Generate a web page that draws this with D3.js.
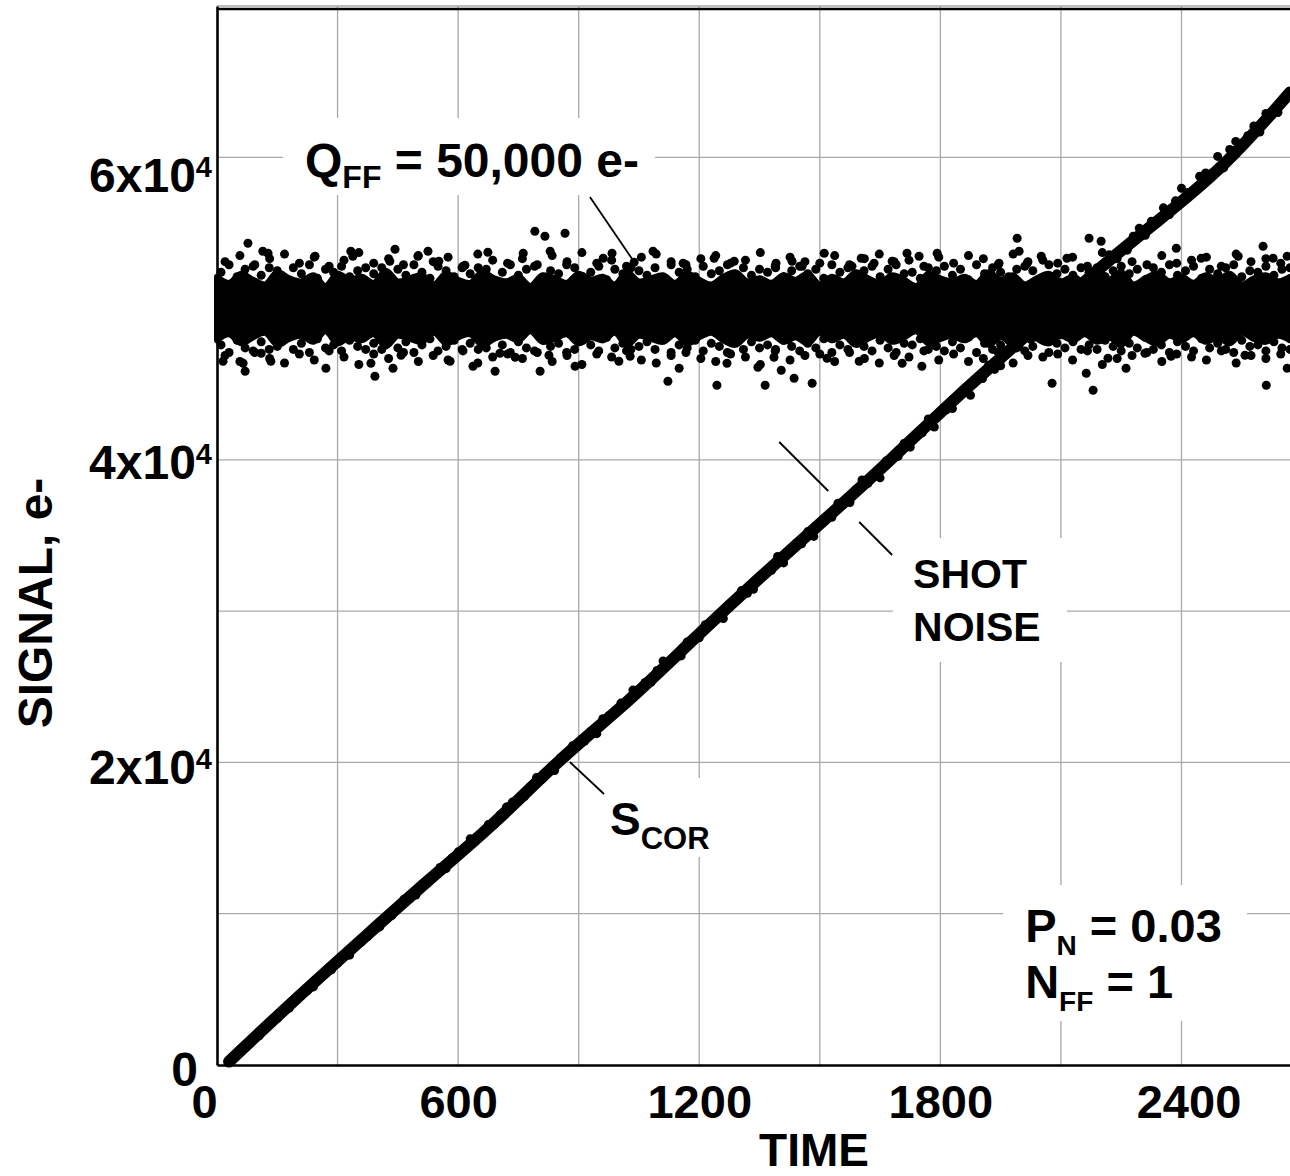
<!DOCTYPE html>
<html><head><meta charset="utf-8">
<script src="https://cdn.jsdelivr.net/npm/d3@7"></script>
<style>
html,body{margin:0;padding:0;background:#fff;}
svg{display:block;font-family:"Liberation Sans",Arial,Helvetica,sans-serif;font-weight:bold;}
</style>
</head><body>
<svg id="chart" width="1290" height="1176"></svg>
<script>
// ---------------- DATA ----------------
const xTickValues = [0, 600, 1200, 1800, 2400];
const xTickLabels = ["0", "600", "1200", "1800", "2400"];
const yTickValues = [0, 20000, 40000, 60000];
const yTickMantissa = ["0", "2x10", "4x10", "6x10"];
const yTickExponent = ["", "4", "4", "4"];
const xGridValues = [300, 600, 900, 1200, 1500, 1800, 2100, 2400];
const yGridValues = [10000, 20000, 30000, 40000, 50000, 60000, 70000];

// S_COR trace: sampled every 15 time units starting at t = 30
const sCorStart = 30, sCorStep = 15;
const sCorSignal = [230,540,950,1350,1650,1930,2440,2850,3070,3480,3760,4360,4590,4900,5160,5710,6120,6290,6720,7260,
7260,7880,8280,8490,8930,9130,9790,9880,10350,10950,11000,11240,11940,12210,12510,13060,12980,13680,14090,14230,
14950,15020,15260,15890,15900,16540,17050,17380,17540,17750,18410,19000,18910,19420,19470,20310,20410,21110,21210,21410,
22060,21900,22890,23090,23280,23920,23890,24780,24790,25280,25290,26080,26710,26510,26980,27040,27960,28140,28240,29100,
29300,29470,29510,30480,30650,31360,31180,31440,32220,32510,32700,33620,33190,33880,34450,34450,35260,34940,35800,36110,
36200,37130,37110,37180,38060,38670,38450,39030,38810,39930,40070,40230,41100,40840,41630,41790,42700,42170,43110,43300,
43390,44310,44500,44270,45340,45380,46250,45980,46220,46980,47860,47490,48090,47960,48940,49430,49200,49840,49700,50720,
51280,51200,51300,52270,52470,52160,53550,53300,53790,53860,54780,55310,54850,55770,55770,56660,56220,57120,57950,57670,
57770,58740,58960,58950,60060,59300,60520,61050,60860,61430,62070,61670,62900,62770,62960,63710,64280];

// Flat-field (Q_FF = 50,000 e-): dense core envelope, every 30 time units
const ffCoreStep = 30;
const ffCoreUpper = [52100,51700,52300,51900,51600,52400,52000,51800,52200,51500,52300,51900,52100,51700,52500,51800,52000,52200,51600,52300,
51900,51700,52400,52000,51800,52100,51500,52200,52000,51700,52300,51900,52100,51600,52400,51800,52000,52200,51700,52300,
51900,51600,52100,52400,51800,52000,51700,52200,51900,52300,51600,52100,51800,52400,52000,51700,52200,51900,51500,52300,
52000,51800,52100,51700,52400,51900,52200,51600,52000,52300,51800,52100,51700,52200,51900,52400,51600,52000,52300,51800,
52100,51700,52200,51900,52300,51600,52000,52200,51800,52100];
const ffCoreLower = [47900,48300,47700,48100,48400,47600,48000,48200,47800,48500,47700,48100,47900,48300,47500,48200,48000,47800,48400,47700,
48100,48300,47600,48000,48200,47900,48500,47800,48000,48300,47700,48100,47900,48400,47600,48200,48000,47800,48300,47700,
48100,48400,47900,47600,48200,48000,48300,47800,48100,47700,48400,47900,48200,47600,48000,48300,47800,48100,48500,47700,
48000,48200,47900,48300,47600,48100,47800,48400,48000,47700,48200,47900,48300,47800,48100,47600,48400,48000,47700,48200,
47900,48300,47800,48100,47700,48400,48000,47800,48200,47900];

// Flat-field points near the core edges, every 20 time units starting at t = 10
const ffNearStart = 10, ffNearStep = 20;
const ffNearUpper = [52400,52900,52100,52600,52800,52200,52700,52500,51900,52700,52300,52900,52000,52600,52400,52800,52100,52500,52700,52300,
52700,51900,52600,52200,52900,52400,52000,52800,52500,52100,52700,52300,52700,52600,51800,52400,52900,52200,52600,52800,
52000,52500,52300,52900,52700,52100,52400,52800,51900,52600,52300,52700,52500,52200,52700,52000,52900,52400,52600,52100,
52800,52300,52500,52900,51900,52700,52200,52600,52400,52700,52100,52500,52800,52300,52600,52000,52900,52400,52700,52200,
52500,52800,52100,52600,52900,52300,52400,52000,52700,52500,52800,52200,52600,51900,52900,52300,52700,52400,52100,52600,
52800,52500,52000,52900,52300,52600,52200,52700,52400,52700,52100,52500,52800,52300,52600,51900,52700,52400,52900,52200,
52500,52800,52000,52600,52300,52700,52900,52100,52500,52400,52800,52200,52600,52700];
const ffNearLower = [47600,47100,47900,47400,47200,47800,47300,47500,48100,47300,47700,47100,48000,47400,47600,47200,47900,47500,47300,47700,
47300,48100,47400,47800,47100,47600,48000,47200,47500,47900,47300,47700,47300,47400,48200,47600,47100,47800,47400,47200,
48000,47500,47700,47100,47300,47900,47600,47200,48100,47400,47700,47300,47500,47800,47300,48000,47100,47600,47400,47900,
47200,47700,47500,47100,48100,47300,47800,47400,47600,47300,47900,47500,47200,47700,47400,48000,47100,47600,47300,47800,
47500,47200,47900,47400,47100,47700,47600,48000,47300,47500,47200,47800,47400,48100,47100,47700,47300,47600,47900,47400,
47200,47500,48000,47100,47700,47400,47800,47300,47600,47300,47900,47500,47200,47700,47400,48100,47300,47600,47100,47800,
47500,47200,48000,47400,47700,47300,47100,47900,47500,47600,47200,47800,47400,47300];

// Flat-field points further out, every 37 time units starting at t = 20
const ffFarStart = 20, ffFarStep = 37;
const ffFarUpper = [53100,53500,52900,53300,53600,53000,53400,52800,53200,53700,53000,53300,52900,53500,53100,53400,52800,53600,53200,53000,
53300,52900,53500,53100,53700,53000,53200,52800,53400,53600,53100,52900,53300,53500,53000,53200,53700,52800,53400,53100,
53000,53500,52900,53300,53600,53100,53200,52800,53400,53000,53500,53300,52900,53600,53100,53200,53000,53400,52800,53700,
53300,53100,52900,53500,53000,53200,53400,52800,53600,53100,53300,53000];
const ffFarLower = [46900,46500,47100,46700,46400,47000,46600,47200,46800,46300,47000,46700,47100,46500,46900,46600,47200,46400,46800,47000,
46700,47100,46500,46900,46300,47000,46800,47200,46600,46400,46900,47100,46700,46500,47000,46800,46300,47200,46600,46900,
47000,46500,47100,46700,46400,46900,46800,47200,46600,47000,46500,46700,47100,46400,46900,46800,47000,46600,47200,46300,
46700,46900,47100,46500,47000,46800,46600,47200,46400,46900,46700,47000];

// Flat-field outlying points
const ffOutlierTime = [77,114,127,244,333,338,443,500,525,430,552,617,791,816,866,762,829,674,983,961,
1038,1085,1237,1287,1160,1511,1603,1580,1635,1680,1717,1747,1792,1991,1996,1946,1431,1391,1456,2170,
2200,2387,2603,2541,2628,2663,2449,2051,2016,2115,
15,70,65,110,134,271,393,438,458,580,637,383,692,804,891,1122,1150,1244,1269,1000,
1028,826,742,704,1364,1436,1481,1518,1598,1754,1705,1386,1404,1346,2078,2163,2262,2217,2309,2374,
2611,2663,2558,2180];
const ffOutlierSignal = [54318,53790,53658,53460,53790,53460,53922,53460,53790,53128,53128,52864,55111,54780,54979,53658,53790,53724,53658,53327,
53063,53790,53327,53128,52996,53658,53327,52798,52996,53128,53658,53460,53658,54648,53790,52996,53128,52996,52798,54648,
54450,53988,54120,53460,53327,53460,53327,53460,52996,53327,
46520,45860,46388,47049,46520,46058,45529,46058,46917,46520,46190,46388,45860,45860,46190,45199,46058,44934,46388,46520,
46851,46917,46785,47049,44934,45397,45067,46718,46520,46190,46388,46785,45926,46124,45067,45728,46058,46718,47049,46851,
44934,46058,46917,44604];

// ---------------- LAYOUT ----------------
const svg = d3.select("#chart");
const FONT = '"Liberation Sans",Arial,Helvetica,sans-serif';
const T_MAX = 2670;
const x = d3.scaleLinear().domain([0, T_MAX]).range([217, 1290]);
const y = d3.scaleLinear().domain([0, 70000]).range([1065, 6]);
const GRID = "#a8a8a8";
const R = 4.5;

// grid
const grid = svg.append("g");
grid.selectAll(".vg").data(xGridValues).join("line")
  .attr("x1", d => x(d)).attr("x2", d => x(d)).attr("y1", y(0)).attr("y2", y(70000))
  .attr("stroke", GRID).attr("stroke-width", 1.3);
grid.selectAll(".hg").data(yGridValues).join("line")
  .attr("x1", x(0)).attr("x2", x(T_MAX)).attr("y1", d => y(d)).attr("y2", d => y(d))
  .attr("stroke", GRID).attr("stroke-width", 1.3);

// white label backgrounds (data space)
const boxes = [
  {t0: 164, t1: 1090, v0: 57507, v1: 62597},
  {t0: 1682, t1: 2115, v0: 26638, v1: 34835},
  {t0: 953, t1: 1239, v0: 13749, v1: 18971},
  {t0: 1956, t1: 2563, v0: 2908, v1: 11898}
];
svg.append("g").selectAll("rect").data(boxes).join("rect")
  .attr("x", d => x(d.t0)).attr("y", d => y(d.v1))
  .attr("width", d => x(d.t1) - x(d.t0)).attr("height", d => y(d.v0) - y(d.v1))
  .attr("fill", "#fff");

// top frame
svg.append("line").attr("x1", x(0)).attr("x2", x(T_MAX)).attr("y1", 9).attr("y2", 9)
  .attr("stroke", "#000").attr("stroke-width", 2.5);

// flat-field core band
const coreData = ffCoreUpper.map((u, i) => ({t: Math.min(i * ffCoreStep, T_MAX), u, l: ffCoreLower[i]}));
svg.append("path").datum(coreData)
  .attr("d", d3.area().x(d => x(d.t)).y0(d => y(d.l)).y1(d => y(d.u)).curve(d3.curveCatmullRom))
  .attr("fill", "#000").attr("stroke", "#000").attr("stroke-width", 6).attr("stroke-linejoin", "round");

// flat-field individual points
const ffPts = [];
function addSeries(arr, start, step) {
  arr.forEach((v, i) => { const t = start + i * step; if (t <= T_MAX) ffPts.push({t, v}); });
}
addSeries(ffNearUpper, ffNearStart, ffNearStep);
addSeries(ffNearLower, ffNearStart, ffNearStep);
addSeries(ffFarUpper, ffFarStart, ffFarStep);
addSeries(ffFarLower, ffFarStart, ffFarStep);
ffOutlierTime.forEach((t, i) => ffPts.push({t, v: ffOutlierSignal[i]}));
svg.append("g").selectAll("circle").data(ffPts).join("circle")
  .attr("cx", d => x(d.t)).attr("cy", d => y(d.v)).attr("r", R).attr("fill", "#000");

// S_COR trace: thick smoothed band plus individual points
const sCorData = sCorSignal.map((v, i) => ({t: sCorStart + i * sCorStep, v}));
const sCorSpine = sCorData.filter((d, i) => i % 11 === 0 || i === sCorData.length - 1);
svg.append("path").datum(sCorSpine)
  .attr("d", d3.line().x(d => x(d.t)).y(d => y(d.v)).curve(d3.curveBasis))
  .attr("fill", "none").attr("stroke", "#000").attr("stroke-width", 12)
  .attr("stroke-linejoin", "round").attr("stroke-linecap", "round");
svg.append("g").selectAll("circle").data(sCorData).join("circle")
  .attr("cx", d => x(d.t)).attr("cy", d => y(d.v)).attr("r", R).attr("fill", "#000");

// axes
const xAxis = d3.axisBottom(x).tickValues(xTickValues).tickSize(0).tickFormat((d, i) => xTickLabels[i]);
const gx = svg.append("g").attr("transform", `translate(0,${y(0)})`).call(xAxis)
  .attr("font-family", FONT).attr("font-size", 47).attr("font-weight", "bold");
gx.select(".domain").attr("stroke", "#000").attr("stroke-width", 2.5);
const xNudge = {0: -13, 2400: 7};
gx.selectAll(".tick text").attr("fill", "#000").attr("dy", null).attr("y", 53)
  .attr("dx", d => xNudge[d] || 0);

const yAxis = d3.axisLeft(y).tickValues(yTickValues).tickSize(0);
const gy = svg.append("g").attr("transform", `translate(${x(0)},0)`).call(yAxis)
  .attr("font-family", FONT).attr("font-size", 48).attr("font-weight", "bold");
gy.select(".domain").attr("stroke", "#000").attr("stroke-width", 2.6);
const yBase = {0: 20, 20000: 21, 40000: 19, 60000: 34};
gy.selectAll(".tick text").each(function (d, i) {
  const t = d3.select(this);
  t.text(null).attr("fill", "#000").attr("dy", null).attr("y", yBase[d]).attr("x", d === 0 ? -19 : -5);
  t.append("tspan").text(yTickMantissa[i]);
  if (yTickExponent[i]) t.append("tspan").attr("font-size", 29).attr("dy", -15).text(yTickExponent[i]);
});

// axis titles
svg.append("text").attr("x", 814).attr("y", 1166).attr("text-anchor", "middle")
  .attr("font-size", 46).attr("fill", "#000").text("TIME");
svg.append("text").attr("transform", "translate(52,603) rotate(-90)").attr("text-anchor", "middle")
  .attr("font-size", 48).attr("fill", "#000").text("SIGNAL, e-");

// leader lines (data space)
const leaders = [
  {t0: 928, v0: 57375, t1: 1033, v1: 53277},
  {t0: 1399, v0: 41180, t1: 1521, v1: 37941},
  {t0: 1598, v0: 35892, t1: 1680, v1: 33711},
  {t0: 878, v0: 20028, t1: 963, v1: 17913}
];
svg.append("g").selectAll("line").data(leaders).join("line")
  .attr("x1", d => x(d.t0)).attr("y1", d => y(d.v0)).attr("x2", d => x(d.t1)).attr("y2", d => y(d.v1))
  .attr("stroke", "#000").attr("stroke-width", 1.8);

// annotation text: parts = [[text, size, dy], ...]
function label(t, v, parts) {
  const tx = svg.append("text").attr("x", x(t)).attr("y", y(v)).attr("fill", "#000");
  parts.forEach(p => tx.append("tspan").attr("font-size", p[1]).attr("dy", p[2]).text(p[0]));
}
label(219, 58697, [["Q", 48, 0], ["FF", 32, 11], [" = 50,000 e-", 48, -11]]);
label(1732, 31530, [["SHOT", 41, 0]]);
label(1732, 28027, [["NOISE", 41, 0]]);
label(978, 15203, [["S", 46, 0], ["COR", 31, 14]]);
label(2011, 8130, [["P", 47, 0], ["N", 28, 13], [" = 0.03", 47, -13]]);
label(2011, 4429, [["N", 47, 0], ["FF", 28, 13], [" = 1", 47, -13]]);
</script>
</body></html>
